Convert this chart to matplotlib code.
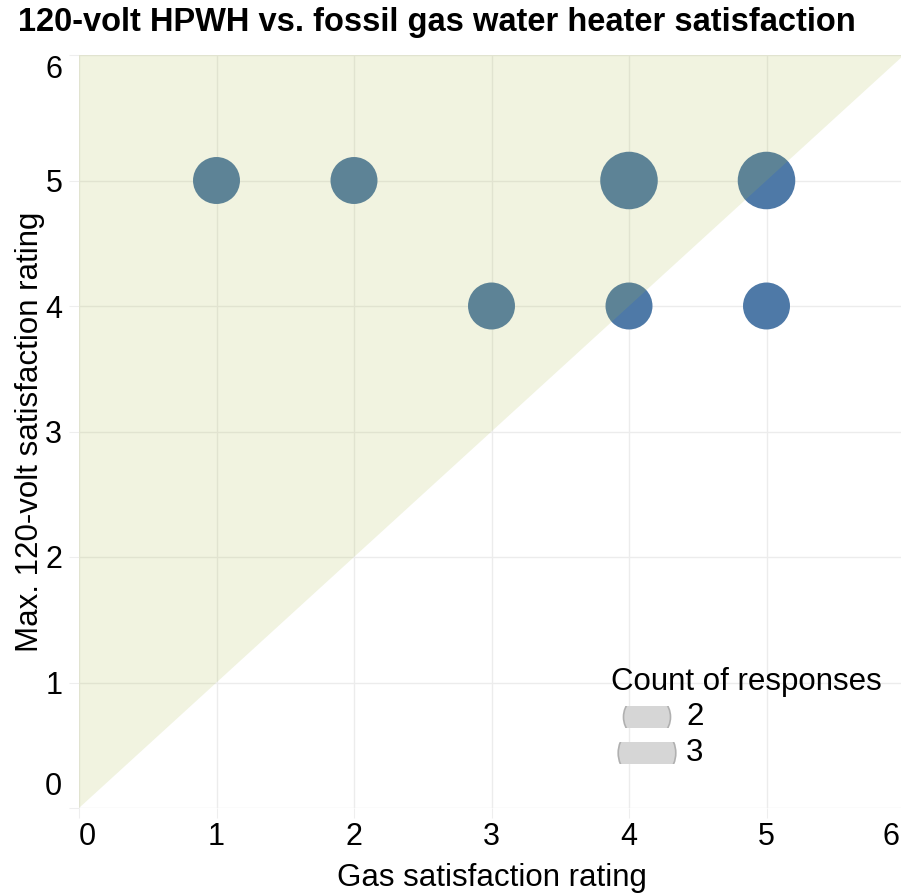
import matplotlib
matplotlib.use('Agg')
import matplotlib.pyplot as plt
from matplotlib.patches import Polygon, Ellipse, Rectangle
from matplotlib.transforms import ScaledTranslation

plt.rcParams['font.family'] = ['Liberation Sans', 'DejaVu Sans']

# survey responses: (gas rating, max 120-volt HPWH rating) -> number of responses
gas_rating = [1, 2, 3, 4, 5, 4, 5]
hpwh_rating = [5, 5, 4, 5, 5, 4, 4]
n_responses = [2, 2, 2, 3, 3, 2, 2]
legend_counts = [2, 3]
ticks = [0, 1, 2, 3, 4, 5, 6]

W, H = 901, 893
fig = plt.figure(figsize=(W / 100, H / 100), dpi=100)
ax = fig.add_axes([79 / W, 85 / H, 825 / W, 753 / H])
ax.set_xlim(0, 6)
ax.set_ylim(0, 6)

# area proportional to count
area_per_resp = 572
ax.scatter(gas_rating, hpwh_rating, s=[c * area_per_resp for c in n_responses],
           color='#4e79a7', linewidths=0, zorder=2)

# "HPWH rated higher" region above the 1:1 line, drawn over the markers
lo, hi = ax.get_xlim()
tri = Polygon([(lo, lo), (hi, hi), (lo, hi)], closed=True, facecolor='#acba48',
              alpha=0.17, edgecolor='none', zorder=3)
ax.add_patch(tri)

ax.set_xticks(ticks)
ax.set_yticks(ticks)
ax.set_xticklabels([str(t) for t in ticks])
ax.set_yticklabels([str(t) for t in ticks])
ax.grid(True, color='#ececec', linewidth=1, zorder=0)
ax.set_axisbelow(True)
for s in ax.spines.values():
    s.set_visible(False)
ax.tick_params(axis='both', length=7, color='#eeeeee', labelsize=22)
ax.tick_params(axis='x', pad=3)
ax.tick_params(axis='y', pad=5)

# push edge labels inward like the original
xl = ax.get_xticklabels()
xl[0].set_horizontalalignment('left')
xl[-1].set_horizontalalignment('right')
xl[-1].set_transform(xl[-1].get_transform() + ScaledTranslation(-4 / 100, 0, fig.dpi_scale_trans))
yl = ax.get_yticklabels()
yl[0].set_verticalalignment('bottom')
yl[0].set_transform(yl[0].get_transform() + ScaledTranslation(0, 6 / 100, fig.dpi_scale_trans))
yl[-1].set_verticalalignment('top')

ax.set_xlabel('Gas satisfaction rating', fontsize=22.5, labelpad=8)
ax.set_ylabel('Max. 120-volt satisfaction rating', fontsize=22.5, labelpad=0)

fig.text(18 / W, 1 - 22 / H, '120-volt HPWH vs. fossil gas water heater satisfaction',
         fontsize=23.5, fontweight='bold', ha='left', va='center')

# legend (bubble size), markers clipped to the row height
fig.text(611 / W, 1 - 682 / H, 'Count of responses', fontsize=22.5, ha='left', va='center')
row_y = [717, 753]
for c, y in zip(legend_counts, row_y):
    d = 47 * (c / 2) ** 0.5
    e = Ellipse((647 / W, 1 - y / H), d / W, d / H, transform=fig.transFigure,
                facecolor='#d6d6d6', edgecolor='#b0b0b0', linewidth=1.2)
    clip = Rectangle(((647 - d) / W, 1 - (y + 11) / H), 2 * d / W, 22 / H,
                     transform=fig.transFigure)
    fig.add_artist(e)
    e.set_clip_path(clip)
    fig.text(686 / W, 1 - y / H, str(c), fontsize=22.5, ha='left', va='center')

fig.savefig('out.png', dpi=100)
